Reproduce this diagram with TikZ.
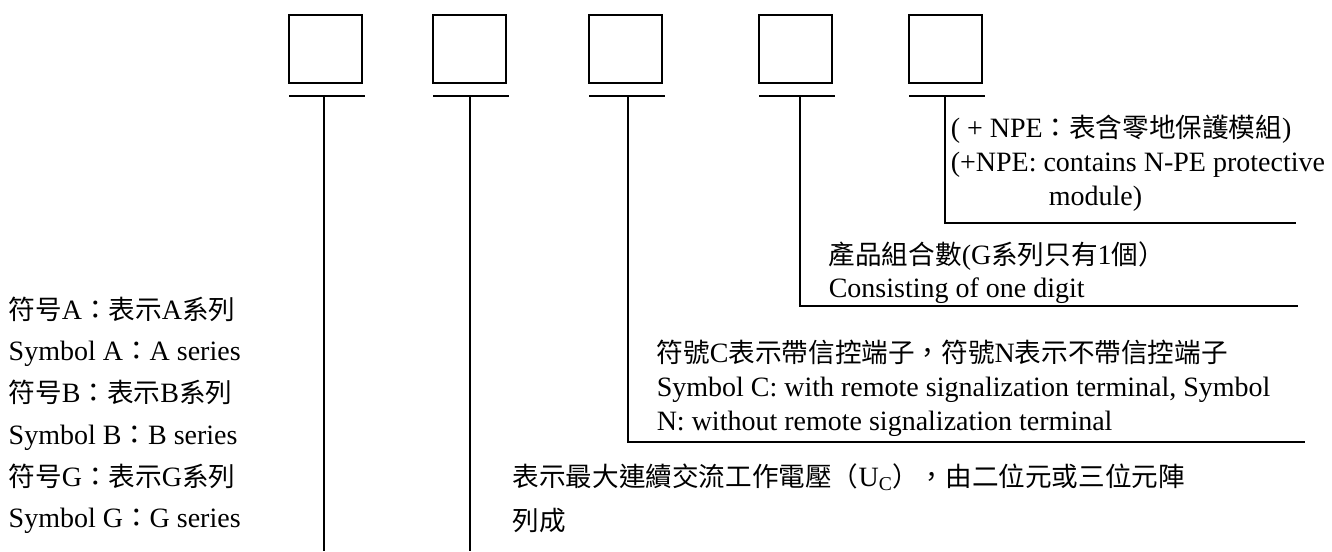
\documentclass[tikz,border=0pt]{standalone}
\usepackage{fontspec}
\setmainfont{Liberation Serif}
\newfontfamily\zhfont[Scale=0.95]{Noto Sans CJK TC}
\newcommand{\zh}[1]{{\zhfont #1}}

\begin{document}
\begin{tikzpicture}[x=1pt,y=-1pt,line width=1.5pt,
        digit/.style={draw,minimum width=73pt,minimum height=68pt,inner sep=0pt},
        txt/.style={anchor=base west,inner sep=0pt,font=\fontsize{28}{34}\selectfont}]
        \useasboundingbox (0,0) rectangle (1332,551) ;
        % the five code boxes
        \node[digit] (b1) at (325.5,49) {} ;
        \node[digit] (b2) at (469.5,49) {} ;
        \node[digit] (b3) at (625.5,49) {} ;
        \node[digit] (b4) at (795.5,49) {} ;
        \node[digit] (b5) at (945.5,49) {} ;
        \foreach \i in {1,...,5}
        \draw ([xshift=1pt,yshift=-12pt]b\i.south west) -- ([xshift=2pt,yshift=-12pt]b\i.south east) ;
        % leader lines
        \coordinate (s1) at (324,95) ; \coordinate (e1) at (324,551) ;
        \coordinate (s2) at (470,95) ; \coordinate (e2) at (470,551) ;
        \coordinate (s3) at (628,95) ; \coordinate (e3) at (1305,442) ;
        \coordinate (s4) at (800,95) ; \coordinate (e4) at (1298,306) ;
        \coordinate (s5) at (945,95) ; \coordinate (e5) at (1296,223) ;
        \draw (s1) -- (e1) ;
        \draw (s2) -- (e2) ;
        \draw (s3) |- (e3) ;
        \draw (s4) |- (e4) ;
        \draw (s5) |- (e5) ;
        % box 5
        \node[txt] (t5a) at (950,137) {( + NPE\zh{：表含零地保護模組})} ;
        \node[txt] (t5b) at (950,171) {(+NPE: contains N-PE protective} ;
        \node[txt] (t5c) at (1048,205) {module)} ;
        % box 4
        \node[txt] (t4a) at (828,264) {\zh{產品組合數}(G\zh{系列只有}1\zh{個）}} ;
        \node[txt] (t4b) at (828,297) {Consisting of one digit} ;
        % box 3
        \node[txt] (t3a) at (656,362) {\zh{符號}C\zh{表示帶信控端子，符號}N\zh{表示不帶信控端子}} ;
        \node[txt] (t3b) at (656,396) {Symbol C: with remote signalization terminal, Symbol} ;
        \node[txt] (t3c) at (656,430) {N: without remote signalization terminal} ;
        % box 2
        \node[txt] (t2a) at (512,486) {\zh{表示最大連續交流工作電壓（}U\textsubscript{C}\zh{），由二位元或三位元陣}} ;
        \node[txt] (t2b) at (512,530) {\zh{列成}} ;
        % box 1
        \node[txt] (t1a) at (8,319) {\zh{符号}A\zh{：表示}A\zh{系列}} ;
        \node[txt] (t1b) at (8,360) {Symbol A\zh{：}A series} ;
        \node[txt] (t1c) at (8,402) {\zh{符号}B\zh{：表示}B\zh{系列}} ;
        \node[txt] (t1d) at (8,444) {Symbol B\zh{：}B series} ;
        \node[txt] (t1e) at (8,486) {\zh{符号}G\zh{：表示}G\zh{系列}} ;
        \node[txt] (t1f) at (8,527) {Symbol G\zh{：}G series} ;
\end{tikzpicture}
\end{document}
